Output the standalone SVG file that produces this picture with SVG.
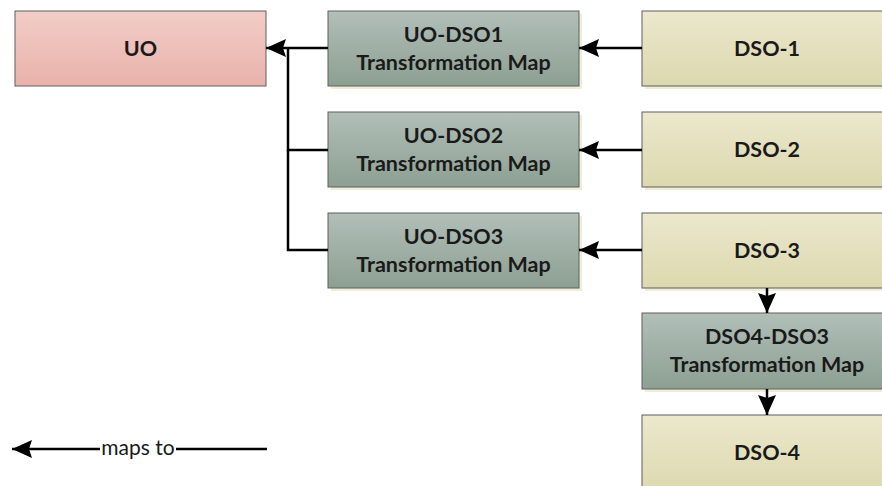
<svg xmlns="http://www.w3.org/2000/svg" width="882" height="486" viewBox="0 0 882 486">
<defs>
<linearGradient id="gUO" x1="0" y1="0" x2="0" y2="1"><stop offset="0" stop-color="#f2cdc7"/><stop offset="1" stop-color="#e9b2ab"/></linearGradient>
<linearGradient id="gMap" x1="0" y1="0" x2="0" y2="1"><stop offset="0" stop-color="#b1bfb8"/><stop offset="1" stop-color="#8d9f92"/></linearGradient>
<linearGradient id="gDSO" x1="0" y1="0" x2="0" y2="1"><stop offset="0" stop-color="#ebe8cd"/><stop offset="1" stop-color="#dcd8ae"/></linearGradient>
<marker id="arr" viewBox="0 0 20 18" refX="20" refY="9" markerWidth="20" markerHeight="18" orient="auto" markerUnits="userSpaceOnUse">
<path d="M0,0 L20,9 L0,18 L3,9 z" fill="#000"/>
</marker>
</defs>
<style>
.box{stroke:#5f5f5f;stroke-width:1}
.sh{fill:#efedd8}
.uo{fill:url(#gUO)}
.map{fill:url(#gMap)}
.dso{fill:url(#gDSO)}
.t{font-family:Lato,"Open Sans",sans-serif;font-weight:bold;font-size:21.5px;fill:#1a1a1a;text-anchor:middle}
.c{stroke:#000;stroke-width:2.5;fill:none}
.lg{font-family:Lato,"Open Sans",sans-serif;font-size:21px;fill:#1a1a1a;text-anchor:middle}
</style>
<g id="UO"><rect class="box uo" x="15" y="11" width="251" height="75"/><text class="t" x="140.5" y="56">UO</text></g>
<g id="MAP1"><rect class="sh" x="331" y="14" width="251" height="75"/><rect class="box map" x="328" y="11" width="251" height="75"/><text class="t" x="453.5" y="42">UO-DSO1</text><text class="t" x="453.5" y="70">Transformation Map</text></g>
<g id="MAP2"><rect class="sh" x="331" y="115" width="251" height="75"/><rect class="box map" x="328" y="112" width="251" height="75"/><text class="t" x="453.5" y="143">UO-DSO2</text><text class="t" x="453.5" y="171">Transformation Map</text></g>
<g id="MAP3"><rect class="sh" x="331" y="216" width="251" height="75"/><rect class="box map" x="328" y="213" width="251" height="75"/><text class="t" x="453.5" y="244">UO-DSO3</text><text class="t" x="453.5" y="272">Transformation Map</text></g>
<g id="DSO1"><rect class="sh" x="645" y="14" width="251" height="75"/><rect class="box dso" x="642" y="11" width="251" height="75"/><text class="t" x="767" y="56">DSO-1</text></g>
<g id="DSO2"><rect class="sh" x="645" y="115" width="251" height="75"/><rect class="box dso" x="642" y="112" width="251" height="75"/><text class="t" x="767" y="157">DSO-2</text></g>
<g id="DSO3"><rect class="sh" x="645" y="216" width="251" height="75"/><rect class="box dso" x="642" y="213" width="251" height="75"/><text class="t" x="767" y="258">DSO-3</text></g>
<g id="MAP4"><rect class="sh" x="645" y="316" width="251" height="76"/><rect class="box map" x="642" y="313" width="251" height="76"/><text class="t" x="767" y="344">DSO4-DSO3</text><text class="t" x="767" y="372">Transformation Map</text></g>
<g id="DSO4"><rect class="box dso" x="642" y="415" width="251" height="80"/><text class="t" x="767" y="460">DSO-4</text></g>
<g id="connectors">
<path class="c" d="M328,48 L266,48" marker-end="url(#arr)"/>
<path class="c" d="M328,150 L288,150 L288,48"/>
<path class="c" d="M328,250 L288,250 L288,150"/>
<path class="c" d="M642,48 L579,48" marker-end="url(#arr)"/>
<path class="c" d="M642,150 L579,150" marker-end="url(#arr)"/>
<path class="c" d="M642,250 L579,250" marker-end="url(#arr)"/>
<path class="c" d="M767,288 L767,313" marker-end="url(#arr)"/>
<path class="c" d="M767,389 L767,415" marker-end="url(#arr)"/>
</g>
<g id="legend">
<path class="c" d="M100,449 L12,449" marker-end="url(#arr)"/>
<path class="c" d="M176,449 L267,449"/>
<text class="lg" x="138" y="455">maps to</text>
</g>
</svg>
